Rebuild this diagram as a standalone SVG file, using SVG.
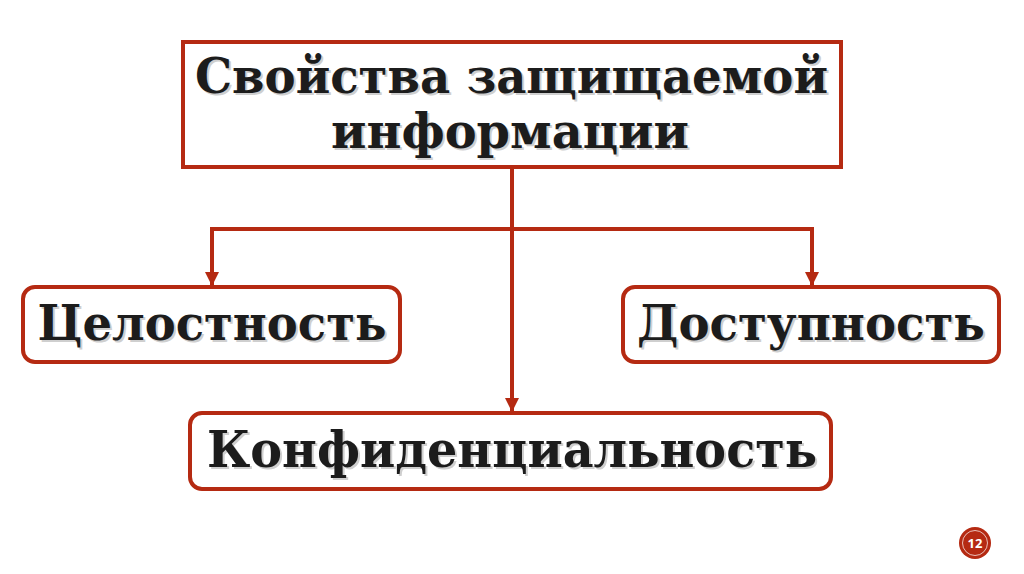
<svg xmlns="http://www.w3.org/2000/svg" width="1024" height="574" viewBox="0 0 1024 574">
<style>
.box{fill:#fff;stroke:#B52A12;stroke-width:4}
.ln{fill:none;stroke:#B52A12;stroke-width:4}
.t{font-family:"DejaVu Serif","Liberation Serif",serif;font-weight:bold;text-anchor:middle;fill:#1c1c1c}
.sh{font-family:"DejaVu Serif","Liberation Serif",serif;font-weight:bold;text-anchor:middle;fill:#cfcfcf}
</style>
<defs>
<marker id="arr" viewBox="0 0 14 14" refX="14" refY="7" markerWidth="14" markerHeight="14" orient="auto" markerUnits="userSpaceOnUse">
<path d="M0,0 L14,7 L0,14 z" fill="#B52A12"/>
</marker>
</defs>
<rect width="1024" height="574" fill="#fff"/>
<g id="connectors">
<line class="ln" x1="512" y1="167" x2="512" y2="412" marker-end="url(#arr)"/>
<polyline class="ln" points="212,276 212,229 812,229 812,276"/>
<line class="ln" x1="212" y1="250" x2="212" y2="286" marker-end="url(#arr)"/>
<line class="ln" x1="812" y1="250" x2="812" y2="286" marker-end="url(#arr)"/>
</g>
<g id="node-root">
<rect class="box" x="183" y="42" width="658" height="125"/>
<text class="sh" font-size="48"><tspan x="513.5" y="95" textLength="633" lengthAdjust="spacingAndGlyphs">Свойства защищаемой</tspan><tspan x="512" y="150" textLength="358" lengthAdjust="spacingAndGlyphs">информации</tspan></text>
<text class="t" font-size="48"><tspan x="511.5" y="93" textLength="633" lengthAdjust="spacingAndGlyphs">Свойства защищаемой</tspan><tspan x="510" y="148" textLength="358" lengthAdjust="spacingAndGlyphs">информации</tspan></text>
</g>
<g id="node-integrity">
<rect class="box" x="23" y="287" width="377" height="75" rx="12"/>
<text class="sh" x="214" y="342" font-size="49" textLength="349" lengthAdjust="spacingAndGlyphs">Целостность</text>
<text class="t" x="212" y="340" font-size="49" textLength="349" lengthAdjust="spacingAndGlyphs">Целостность</text>
</g>
<g id="node-availability">
<rect class="box" x="623" y="287" width="376" height="75" rx="12"/>
<text class="sh" x="813" y="342" font-size="49" textLength="348" lengthAdjust="spacingAndGlyphs">Доступность</text>
<text class="t" x="811" y="340" font-size="49" textLength="348" lengthAdjust="spacingAndGlyphs">Доступность</text>
</g>
<g id="node-confidentiality">
<rect class="box" x="190" y="413" width="641" height="76" rx="12"/>
<text class="sh" x="514" y="469" font-size="50" textLength="610" lengthAdjust="spacingAndGlyphs">Конфиденциальность</text>
<text class="t" x="512" y="467" font-size="50" textLength="610" lengthAdjust="spacingAndGlyphs">Конфиденциальность</text>
</g>
<g id="page-number">
<circle cx="975" cy="543" r="16" fill="#B52A12"/>
<circle cx="975" cy="543" r="12.5" fill="none" stroke="#fff" stroke-width="1" opacity="0.7"/>
<text x="975" y="548" font-family="'Open Sans','Liberation Sans',sans-serif" font-size="13" font-weight="bold" fill="#fff" text-anchor="middle">12</text>
</g>
</svg>
